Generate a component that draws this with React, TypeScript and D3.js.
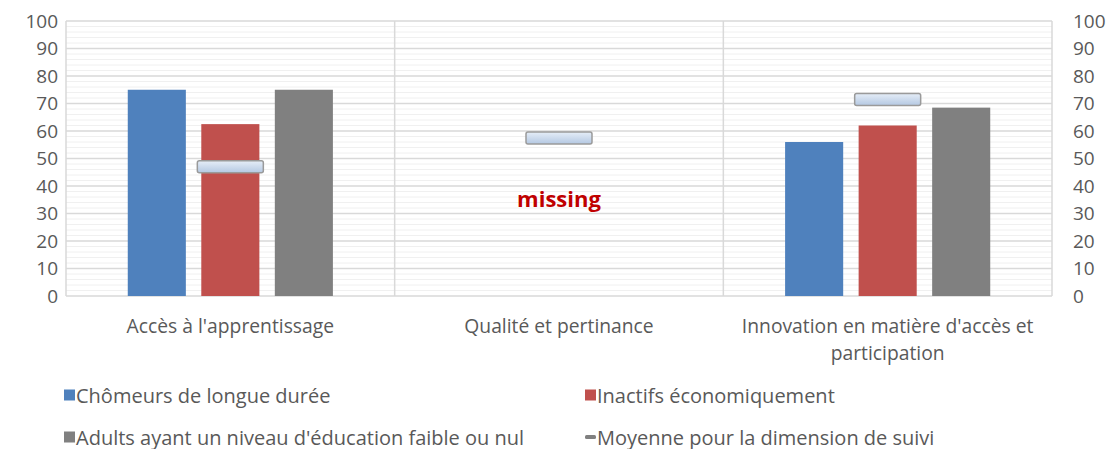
import { useEffect, useRef } from 'react'
import * as d3 from 'd3'

const categories = ["Accès à l'apprentissage", 'Qualité et pertinance', "Innovation en matière d'accès et participation"]
const categoryLines = [["Accès à l'apprentissage"], ['Qualité et pertinance'], ["Innovation en matière d'accès et", 'participation']]
const seriesNames = ['Chômeurs de longue durée', 'Inactifs économiquement', "Adults ayant un niveau d'éducation faible ou nul"]
const chomeurs = [75, null, 56]
const inactifs = [62.5, null, 62]
const adults = [75, null, 68.5]
const moyenne = [47, 57.5, 71.5]
const yTicks = [0, 10, 20, 30, 40, 50, 60, 70, 80, 90, 100]
const missingLabel = 'missing'
const meanLabel = 'Moyenne pour la dimension de suivi'

const COLORS = ['#4f81bd', '#c0504d', '#808080']
const FONT = '"Open Sans", sans-serif'
const FS = 19
const W = 1110
const H = 449
const PLOT = { left: 66, right: 1052, top: 21, bottom: 296 }

export default function App() {
  const svgRef = useRef<SVGSVGElement>(null)

  useEffect(() => {
    const svg = d3.select(svgRef.current)
    svg.selectAll('*').remove()

    const x = d3.scaleBand<string>().domain(categories).range([PLOT.left, PLOT.right])
    const y = d3.scaleLinear([0, 100], [PLOT.bottom, PLOT.top])
    const inner = d3.scaleBand<number>().domain([0, 1, 2]).range([0, x.bandwidth()]).paddingInner(0.21).paddingOuter(0.84)

    const defs = svg.append('defs')
    const grad = defs.append('linearGradient').attr('id', 'meanGrad').attr('x1', 0).attr('x2', 0).attr('y1', 0).attr('y2', 1)
    grad.append('stop').attr('offset', '0%').attr('stop-color', '#e6eef8')
    grad.append('stop').attr('offset', '100%').attr('stop-color', '#b4c8e2')

    // minor gridlines
    const minor = d3.range(0, 101, 2).filter(v => v % 10 !== 0)
    svg.append('g').selectAll('line').data(minor).join('line')
      .attr('x1', PLOT.left).attr('x2', PLOT.right)
      .attr('y1', d => y(d)).attr('y2', d => y(d))
      .attr('stroke', '#f0f0f0').attr('stroke-width', 1)

    // major gridlines
    svg.append('g').selectAll('line').data(yTicks).join('line')
      .attr('x1', PLOT.left).attr('x2', PLOT.right)
      .attr('y1', d => y(d)).attr('y2', d => y(d))
      .attr('stroke', '#d9d9d9').attr('stroke-width', 1.5)

    // category separators + frame
    const seps = [PLOT.left, ...categories.slice(1).map(c => x(c)!), PLOT.right]
    svg.append('g').selectAll('line').data(seps).join('line')
      .attr('x1', d => d).attr('x2', d => d)
      .attr('y1', PLOT.top).attr('y2', PLOT.bottom)
      .attr('stroke', '#d9d9d9').attr('stroke-width', 1.5)

    // y axis labels
    const left = svg.append('g').attr('transform', `translate(${PLOT.left - 8},0)`)
    left.call(d3.axisLeft(y).tickValues(yTicks).tickSize(0).tickPadding(0))
      .call(g => g.select('.domain').remove())
      .call(g => g.selectAll('text').attr('fill', '#595959').attr('font-size', FS).attr('font-family', FONT))
    const right = svg.append('g').attr('transform', `translate(${PLOT.right + 21},0)`)
    right.call(d3.axisRight(y).tickValues(yTicks).tickSize(0).tickPadding(0))
      .call(g => g.select('.domain').remove())
      .call(g => g.selectAll('text').attr('fill', '#595959').attr('font-size', FS).attr('font-family', FONT))

    // bars
    const series = [chomeurs, inactifs, adults]
    series.forEach((vals, si) => {
      svg.append('g').selectAll('rect')
        .data(vals.map((v, i) => ({ v, c: categories[i] })).filter(d => d.v !== null))
        .join('rect')
        .attr('x', d => x(d.c)! + inner(si)!)
        .attr('width', inner.bandwidth())
        .attr('y', d => y(d.v as number))
        .attr('height', d => y(0) - y(d.v as number))
        .attr('fill', COLORS[si])
    })

    // mean markers
    const mw = 66
    const mh = 12
    svg.append('g').selectAll('rect')
      .data(moyenne.map((v, i) => ({ v, c: categories[i] })))
      .join('rect')
      .attr('x', d => x(d.c)! + x.bandwidth() / 2 - mw / 2)
      .attr('y', d => y(d.v) - mh / 2)
      .attr('width', mw).attr('height', mh)
      .attr('rx', 2)
      .attr('fill', 'url(#meanGrad)')
      .attr('stroke', '#9a9a9a').attr('stroke-width', 1.5)

    // missing label
    svg.append('text')
      .attr('x', x(categories[1])! + x.bandwidth() / 2)
      .attr('y', 198)
      .attr('dominant-baseline', 'central')
      .attr('text-anchor', 'middle')
      .attr('fill', '#c00000').attr('font-weight', 'bold')
      .attr('font-size', 22).attr('font-family', FONT)
      .text(missingLabel)

    // category labels
    categoryLines.forEach((lines, i) => {
      lines.forEach((line, li) => {
        svg.append('text')
          .attr('x', x(categories[i])! + x.bandwidth() / 2)
          .attr('y', 325 + li * 27)
          .attr('dominant-baseline', 'central')
          .attr('text-anchor', 'middle')
          .attr('fill', '#595959').attr('font-size', 19.3).attr('font-family', FONT)
          .text(line)
      })
    })

    // legend
    const legendItems = [
      { name: seriesNames[0], color: COLORS[0], kind: 'box', lx: 64, ly: 395 },
      { name: seriesNames[1], color: COLORS[1], kind: 'box', lx: 585, ly: 395 },
      { name: seriesNames[2], color: COLORS[2], kind: 'box', lx: 64, ly: 437 },
      { name: meanLabel, color: '#808080', kind: 'dash', lx: 585, ly: 437 },
    ]
    const lg = svg.append('g')
    legendItems.forEach(it => {
      if (it.kind === 'box') {
        lg.append('rect').attr('x', it.lx).attr('y', it.ly - 5.5).attr('width', 11).attr('height', 11).attr('fill', it.color)
      } else {
        lg.append('rect').attr('x', it.lx).attr('y', it.ly - 2).attr('width', 11).attr('height', 4).attr('rx', 1.5).attr('fill', it.color)
      }
      lg.append('text')
        .attr('x', it.lx + 12).attr('y', it.ly)
        .attr('dominant-baseline', 'central')
        .attr('fill', '#595959').attr('font-size', 20).attr('font-family', FONT)
        .text(it.name)
    })
  }, [])

  return (
    <svg ref={svgRef} width={W} height={H} style={{ display: 'block', position: 'absolute', left: 0, top: 0, background: '#fff' }} />
  )
}
